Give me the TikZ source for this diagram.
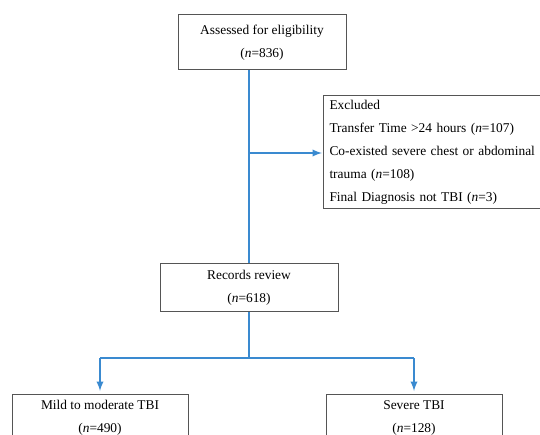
\documentclass[tikz,border=0pt]{standalone}
\usepackage{fontspec}
\setmainfont{Liberation Serif}
\usetikzlibrary{positioning, arrows}

\definecolor{flowblue}{RGB}{58,138,208}
\definecolor{boxgray}{RGB}{85,85,85}

\begin{document}
\begin{tikzpicture}[x=1pt, y=-1pt,
    box/.style={draw=boxgray, line width=1pt, align=center, inner sep=0pt,
                font=\fontsize{13.4}{23}\selectfont},
    flow/.style={draw=flowblue, line width=2.2pt},
    >=latex]
    \useasboundingbox (0,0) rectangle (540,435);
    \clip (0,0) rectangle (540,435);

    \node[box, minimum width=168pt, minimum height=55pt] (assess) at (262,42.5)
        {Assessed for eligibility\\(\textit{n}=836)};
    \node[box, minimum width=178pt, minimum height=47pt] (review) at (249,287.5)
        {Records review\\(\textit{n}=618)};
    \node[box, anchor=north west, minimum width=240pt, minimum height=113pt,
          align=left, text width=228pt, inner xsep=6pt] (excl) at (323,95)
        {Excluded\\
         Transfer Time >24 hours (\textit{n}=107)\\
         Co-existed severe chest or abdominal\\
         trauma (\textit{n}=108)\\
         Final Diagnosis not TBI (\textit{n}=3)};
    \node[box, minimum width=176pt, minimum height=46pt, anchor=north] (mild) at (100,394)
        {Mild to moderate TBI\\(\textit{n}=490)};
    \node[box, minimum width=176pt, minimum height=46pt, anchor=north] (severe) at (414,394)
        {Severe TBI\\(\textit{n}=128)};

    % trunk and branches
    \coordinate (split) at (review.north |- 0,153);
    \coordinate (fork) at (review.south |- 0,358);
    \draw[flow] (assess.south -| review.north) -- (review.north);
    \draw[flow, ->, shorten >=1pt] (split) -- (excl.west |- split);
    \draw[flow] (review.south) -- (fork);
    \draw[flow] (fork -| mild.north) -- (fork -| severe.north);
    \draw[flow, ->, shorten >=3pt] (fork -| mild.north) -- (mild.north);
    \draw[flow, ->, shorten >=3pt] (fork -| severe.north) -- (severe.north);
\end{tikzpicture}
\end{document}
